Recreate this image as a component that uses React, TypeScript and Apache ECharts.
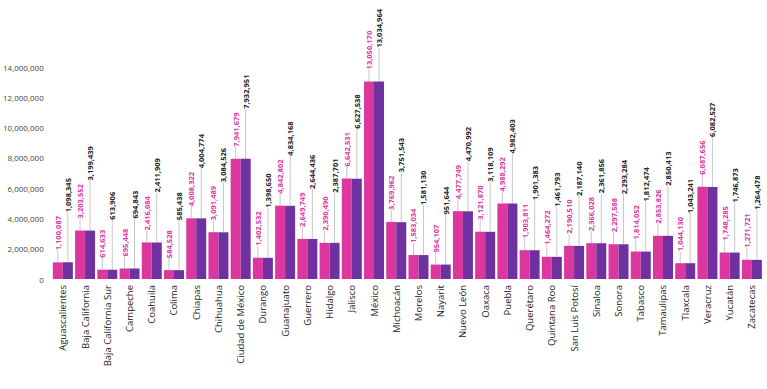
import React, { useEffect, useRef } from 'react';
import * as echarts from 'echarts';

const states = [
  'Aguascalientes', 'Baja California', 'Baja California Sur', 'Campeche', 'Coahuila', 'Colima',
  'Chiapas', 'Chihuahua', 'Ciudad de México', 'Durango', 'Guanajuato', 'Guerrero', 'Hidalgo',
  'Jalisco', 'México', 'Michoacán', 'Morelos', 'Nayarit', 'Nuevo León', 'Oaxaca', 'Puebla',
  'Querétaro', 'Quintana Roo', 'San Luis Potosí', 'Sinaloa', 'Sonora', 'Tabasco', 'Tamaulipas',
  'Tlaxcala', 'Veracruz', 'Yucatán', 'Zacatecas',
];

const pinkValues = [
  1100087, 3203552, 614633, 695448, 2416084, 584528, 4008322, 3091489, 7941679, 1402532,
  4842802, 2649749, 2390490, 6642531, 13050170, 3769962, 1583034, 954107, 4477749, 3121870,
  4988292, 1903811, 1464272, 2190510, 2366028, 2297588, 1814052, 2853826, 1044130, 6087656,
  1748285, 1271721,
];

const purpleValues = [
  1098345, 3199439, 613906, 694843, 2411909, 585438, 4004774, 3084526, 7932951, 1398650,
  4834168, 2644436, 2387701, 6627538, 13034964, 3751543, 1581130, 951644, 4470992, 3118109,
  4982403, 1901383, 1461793, 2187140, 2361856, 2293284, 1812474, 2850413, 1043241, 6082527,
  1746873, 1264478,
];

const yMin = 0;
const yMax = 14000000;
const yInterval = 2000000;

const PINK = '#dc379f';
const PURPLE = '#7030a0';
const PINK_DIST = 12;
const PURPLE_DIST = 50;
const PURPLE_DIST_TALL = 34;
const TALL_LIMIT = 12000000;
const BAR_CAT_GAP = 0.1;

const fmt = (v: number) => v.toLocaleString('en-US');
const purpleDist = (v: number) => (v > TALL_LIMIT ? PURPLE_DIST_TALL : PURPLE_DIST);

export default function App() {
  const ref = useRef<HTMLDivElement>(null);

  useEffect(() => {
    const chart = echarts.init(ref.current!, null, { renderer: 'svg' });
    const mkLabel = (color: string, distance: number) => ({
      show: true,
      position: 'top',
      rotate: 90,
      align: 'left',
      verticalAlign: 'middle',
      distance,
      color,
      fontSize: 7.5,
      fontWeight: 'bold',
      fontFamily: 'Open Sans',
      formatter: (p: any) => fmt(p.value),
    });

    // leader line data: [categoryIndex, value, side(-1 pink / +1 purple), pixel distance]
    const leaderData: number[][] = [];
    pinkValues.forEach((v, i) => leaderData.push([i, v, -1, PINK_DIST]));
    purpleValues.forEach((v, i) => leaderData.push([i, v, 1, purpleDist(v)]));

    const purpleData = purpleValues.map((v) =>
      v > TALL_LIMIT ? { value: v, label: { distance: PURPLE_DIST_TALL } } : v
    );

    chart.setOption({
      animation: false,
      backgroundColor: '#ffffff',
      grid: { left: 51, right: 4, top: 67, bottom: 110 },
      xAxis: {
        type: 'category',
        data: states,
        axisLine: { show: false },
        axisTick: { show: false },
        axisLabel: {
          interval: 0,
          rotate: 90,
          margin: 6,
          fontSize: 9.5,
          color: '#222',
          fontFamily: 'Open Sans',
        },
      },
      yAxis: {
        type: 'value',
        min: yMin,
        max: yMax,
        interval: yInterval,
        splitLine: { show: false },
        axisLine: { show: false },
        axisTick: { show: false },
        axisLabel: {
          margin: 8,
          fontSize: 8,
          color: '#444',
          fontFamily: 'Open Sans',
          formatter: (v: number) => fmt(v),
        },
      },
      series: [
        {
          type: 'bar',
          data: pinkValues,
          barGap: '0%',
          barCategoryGap: `${BAR_CAT_GAP * 100}%`,
          itemStyle: { color: PINK },
          label: mkLabel(PINK, PINK_DIST),
          z: 3,
        },
        {
          type: 'bar',
          data: purpleData,
          barGap: '0%',
          barCategoryGap: `${BAR_CAT_GAP * 100}%`,
          itemStyle: { color: PURPLE },
          label: mkLabel('#222222', PURPLE_DIST),
          z: 3,
        },
        {
          type: 'custom',
          data: leaderData,
          z: 2,
          silent: true,
          renderItem: (params: any, api: any) => {
            const idx = api.value(0);
            const val = api.value(1);
            const side = api.value(2);
            const dist = api.value(3);
            const top = api.coord([idx, val]);
            const w = api.size([1, 0])[0];
            const x = top[0] + side * (w * (1 - BAR_CAT_GAP)) / 4;
            return {
              type: 'line',
              shape: { x1: x, y1: top[1], x2: x, y2: top[1] - dist },
              style: { stroke: '#c8c8c8', lineWidth: 1 },
            };
          },
        },
      ],
    });
    return () => chart.dispose();
  }, []);

  return (
    <div
      ref={ref}
      style={{ position: 'fixed', left: 0, top: 0, width: 767, height: 389 }}
    />
  );
}
